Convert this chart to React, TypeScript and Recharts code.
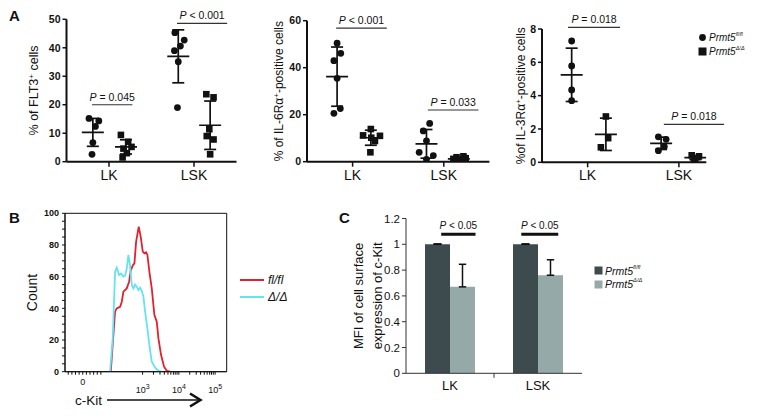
import React from "react";
import {
  ScatterChart,
  Scatter,
  LineChart,
  Line,
  BarChart,
  Bar,
  XAxis,
  YAxis,
  ErrorBar,
  ReferenceLine,
  ReferenceArea,
  Legend,
} from "recharts";

const FONT = '"Liberation Sans", Arial, Helvetica, sans-serif';
const INK = "#111";

// ---------- A: dot plots (mean ± SD) ----------
const groups = ["LK", "LSK"];
const groupTicks = [1, 3];
const genotypes = ["fl/fl", "Δ/Δ"];

// each point: [x position incl. jitter, value]
const flt3LkFl = [[0.53, 15.2], [0.76, 14.3], [0.68, 12.4], [0.62, 6.7], [0.6, 2.6]];
const flt3LkKo = [[1.28, 9.4], [1.45, 7.0], [1.53, 5.2], [1.34, 4.6], [1.42, 3.0], [1.32, 1.5]];
const flt3LskFl = [[2.55, 45.3], [2.77, 42.7], [2.68, 40.6], [2.54, 39.0], [2.63, 35.1], [2.61, 19.0]];
const flt3LskKo = [[3.29, 23.7], [3.46, 22.6], [3.36, 11.4], [3.3, 9.0], [3.46, 7.8], [3.38, 2.6]];
const flt3Centers = [0.62, 1.4, 2.63, 3.38];
const flt3Mean = [10.3, 5.2, 37.0, 12.8];
const flt3Sd = [4.9, 2.5, 9.3, 8.5];

const il6LkFl = [[0.66, 50.4], [0.74, 46.1], [0.59, 43.0], [0.66, 35.5], [0.73, 22.6], [0.59, 20.6]];
const il6LkKo = [[1.4, 13.9], [1.23, 11.2], [1.6, 11.0], [1.41, 10.2], [1.49, 8.8], [1.39, 4.0]];
const il6LskFl = [[2.69, 16.3], [2.55, 13.1], [2.62, 8.9], [2.46, 4.0], [2.77, 2.6], [2.62, 1.0]];
const il6LskKo = [[3.43, 2.3], [3.28, 1.9], [3.48, 1.5], [3.21, 1.2], [3.36, 0.8], [3.31, 0.5]];
const il6Centers = [0.66, 1.4, 2.62, 3.33];
const il6Mean = [36.2, 10.2, 7.6, 1.2];
const il6Sd = [12.6, 3.2, 6.1, 0.7];

const il3LkFl = [[0.65, 7.28], [0.65, 5.78], [0.65, 4.34], [0.65, 3.7]];
const il3LkKo = [[1.4, 2.75], [1.45, 1.45], [1.29, 0.9]];
const il3LskFl = [[2.55, 1.53], [2.72, 1.38], [2.68, 0.94], [2.55, 0.7]];
const il3LskKo = [[3.28, 0.42], [3.44, 0.36], [3.36, 0.22], [3.33, 0.12]];
const il3Centers = [0.65, 1.4, 2.61, 3.36];
const il3Mean = [5.25, 1.68, 1.14, 0.28];
const il3Sd = [1.6, 0.97, 0.37, 0.12];

type Bracket = { x1: number; x2: number; y: number; text: string };
const flt3P: Bracket[] = [
  { x1: 0.6, x2: 1.55, y: 20, text: "= 0.045" },
  { x1: 2.6, x2: 3.78, y: 48.6, text: "< 0.001" },
];
const il6P: Bracket[] = [
  { x1: 0.64, x2: 1.75, y: 56.8, text: "< 0.001" },
  { x1: 2.65, x2: 3.76, y: 22, text: "= 0.033" },
];
const il3P: Bracket[] = [
  { x1: 0.57, x2: 1.71, y: 8.1, text: "= 0.018" },
  { x1: 2.67, x2: 3.99, y: 2.28, text: "= 0.018" },
];

// ---------- B: c-Kit histogram ----------
// x in display units (10^3 -> 3, 10^4 -> 4 ...), y = count
const kitFlX = [2.122, 2.241, 2.287, 2.379, 2.425, 2.471, 2.563, 2.628, 2.674, 2.729, 2.775, 2.821, 2.894, 2.95, 3.005, 3.05, 3.097, 3.133, 3.188, 3.253, 3.326, 3.391, 3.437, 3.51, 3.593, 3.667, 3.759];
const kitFlY = [0, 37.9, 40, 41, 44, 50.5, 52.6, 56.8, 64, 67, 68.4, 82, 91.6, 85, 75.8, 74.7, 75.4, 73.7, 63, 52.6, 35.8, 31.6, 21, 10.5, 3.2, 0.6, 0];
const kitKoX = [2.103, 2.177, 2.241, 2.287, 2.352, 2.407, 2.471, 2.517, 2.563, 2.609, 2.655, 2.701, 2.747, 2.793, 2.839, 2.885, 2.931, 2.977, 3.023, 3.069, 3.133, 3.188, 3.253, 3.345, 3.437, 3.529];
const kitKoY = [0, 21, 63, 65.7, 61, 62, 60, 60.6, 65, 73.7, 67, 54.7, 52.6, 55, 53.7, 51.6, 53, 51, 47.4, 38, 27.4, 16.8, 6.3, 2.5, 0.6, 0];
const kitDomain = [0.86, 5.32];
const kitMajor = [1.35, 3, 4, 5];
const kitBase = ["0", "10", "10", "10"];
const kitExp = ["", "3", "4", "5"];
const kitMinor = [0.95, 1.05, 1.15, 1.25, 1.45, 1.55, 1.65, 1.75, 1.85, 3.3, 3.48, 3.6, 3.7, 3.78, 3.85, 3.9, 3.95, 4.3, 4.48, 4.6, 4.7, 4.78, 4.85, 4.9, 4.95];
const countTicks = [0, 5, 10, 15, 20, 25, 30, 35, 40, 45, 50, 55, 60, 65, 70, 75, 80, 85, 90, 95, 100];
const countLabels = [0, 20, 40, 60, 80, 100];
const curveNames = ["fl/fl", "Δ/Δ"];
const curveColors = ["#e2212f", "#62e4f2"];

// ---------- C: MFI bars ----------
const cGroups = ["LK", "LSK"];
const cPos = [0.5, 1.5];
const cFl = [1, 1];
const cKo = [0.67, 0.76];
const cFlErr = [0.003, 0.003];
const cKoErr = [0.175, 0.12];
const cP: Bracket[] = [
  { x1: 0.4, x2: 0.79, y: 1.078, text: "< 0.05" },
  { x1: 1.31, x2: 1.73, y: 1.078, text: "< 0.05" },
];
const barColors = ["#3e4b4e", "#94a9a8"];

const cData = cGroups.map((g, i) => ({
  group: g,
  pos: cPos[i],
  fl: cFl[i],
  ko: cKo[i],
  flErr: [0, cFlErr[i]],
  koErr: [0, cKoErr[i]],
}));

const toPts = (arr: number[][]) => arr.map(([x, y]) => ({ x, y }));

// ---------- small svg pieces ----------
const DotShape = (p: any) => <circle cx={p.cx} cy={p.cy} r={3.4} fill={INK} />;
const SquareShape = (p: any) => (
  <rect x={p.cx - 3.3} y={p.cy - 3.3} width={6.6} height={6.6} fill={INK} />
);
const MeanShape = (p: any) => (
  <line x1={p.cx - 11} x2={p.cx + 11} y1={p.cy} y2={p.cy} stroke={INK} strokeWidth={1.7} />
);

const PLabel = (props: any) => {
  const { viewBox, text, size = 10.5, gap = 4 } = props;
  if (!viewBox) return null;
  return (
    <text
      x={viewBox.x + viewBox.width / 2}
      y={viewBox.y - gap}
      textAnchor="middle"
      fontSize={size}
      fontFamily={FONT}
      fill={INK}
    >
      <tspan fontStyle="italic">P</tspan>
      <tspan> {text}</tspan>
    </text>
  );
};

const RotLabel = (props: any) => {
  const { x, y, size, body } = props;
  return (
    <text
      transform={`translate(${x},${y}) rotate(-90)`}
      textAnchor="middle"
      dy="0.35em"
      fontSize={size}
      fontFamily={FONT}
      fill={INK}
    >
      {body}
    </text>
  );
};

const GenoLegend = ({ dotFirst, colors, size, row }: any) => (
  <div style={{ fontFamily: FONT, fontSize: size, fontStyle: "italic", color: INK, whiteSpace: "nowrap" }}>
    {genotypes.map((g, i) => (
      <div key={g} style={{ display: "flex", alignItems: "center", height: row }}>
        <svg width={9} height={9} style={{ marginRight: 2 }}>
          {dotFirst && i === 0 ? (
            <circle cx={4.5} cy={4.5} r={3.4} fill={colors[i]} />
          ) : (
            <rect x={0.5} y={0.5} width={8} height={8} fill={colors[i]} />
          )}
        </svg>
        <span>
          Prmt5
          <sup style={{ fontSize: size * 0.55, verticalAlign: "top", lineHeight: 1 }}>{g}</sup>
        </span>
      </div>
    ))}
  </div>
);

const CurveLegend = () => (
  <div style={{ fontFamily: FONT, fontSize: 12, fontStyle: "italic", color: INK, whiteSpace: "nowrap" }}>
    {curveNames.map((n, i) => (
      <div key={n} style={{ display: "flex", alignItems: "center", height: 16.5 }}>
        <svg width={24} height={4} style={{ marginRight: 4 }}>
          <line x1={0} x2={24} y1={2} y2={2} stroke={curveColors[i]} strokeWidth={2} />
        </svg>
        {n}
      </div>
    ))}
  </div>
);

const KitTick = (props: any) => {
  const { x, y, payload } = props;
  const i = kitMajor.indexOf(payload.value);
  if (i < 0) return null;
  const exp = kitExp[i];
  return (
    <text x={x} y={exp ? y + 17 : y + 9} textAnchor="middle" fontSize={9} fontFamily={FONT} fill={INK}>
      {kitBase[i]}
      {exp && (
        <tspan dy={-4} fontSize={7}>
          {exp}
        </tspan>
      )}
    </text>
  );
};

const KitAxisLabel = () => (
  <g>
    <text x={75} y={205} fontSize={13.5} fontFamily={FONT} fill={INK}>
      c-Kit
    </text>
    <line x1={107} x2={200} y1={200} y2={200} stroke={INK} strokeWidth={1.5} />
    <polyline points="190,193.5 200.5,200 190,206.5" fill="none" stroke={INK} strokeWidth={2.5} />
  </g>
);

// ---------- panel A component ----------
interface DotPanelProps {
  left: number;
  width: number;
  margin: { top: number; right: number; left: number; bottom: number };
  yWidth: number;
  xMax: number;
  yMax: number;
  yTicks: number[];
  fl: number[][];
  ko: number[][];
  centers: number[];
  means: number[];
  sds: number[];
  brackets: Bracket[];
  label: React.ReactNode;
  labelX: number;
  labelY: number;
  labelSize: number;
  legend?: boolean;
}

const DotPanel: React.FC<DotPanelProps> = (p) => {
  const summary = p.centers.map((c, i) => ({ x: c, y: p.means[i], sd: p.sds[i] }));
  return (
    <div style={{ position: "absolute", left: p.left, top: 0 }}>
      <ScatterChart width={p.width} height={190} margin={p.margin}>
        <XAxis
          type="number"
          dataKey="x"
          domain={[0, p.xMax]}
          allowDataOverflow
          ticks={groupTicks}
          interval={0}
          tickFormatter={(v) => groups[groupTicks.indexOf(v)]}
          axisLine={{ stroke: INK, strokeWidth: 2 }}
          tickLine={{ stroke: INK, strokeWidth: 1.5 }}
          tickSize={5}
          tickMargin={3}
          height={25}
          tick={{ fontSize: 14, fill: INK, fontFamily: FONT }}
        />
        <YAxis
          type="number"
          dataKey="y"
          domain={[0, p.yMax]}
          allowDataOverflow
          ticks={p.yTicks}
          interval={0}
          width={p.yWidth}
          axisLine={{ stroke: INK, strokeWidth: 2 }}
          tickLine={{ stroke: INK, strokeWidth: 1.5 }}
          tickSize={4}
          tickMargin={2}
          tick={{ fontSize: 10.5, fontWeight: 700, fill: INK, fontFamily: FONT }}
          label={<RotLabel x={p.labelX} y={p.labelY} size={p.labelSize} body={p.label} />}
        />
        {p.brackets.map((b, i) => (
          <ReferenceLine
            key={i}
            segment={[
              { x: b.x1, y: b.y },
              { x: b.x2, y: b.y },
            ]}
            stroke="#333"
            strokeWidth={1.2}
            ifOverflow="visible"
            label={<PLabel text={b.text} />}
          />
        ))}
        <Scatter data={toPts(p.fl)} shape={DotShape} isAnimationActive={false} />
        <Scatter data={toPts(p.ko)} shape={SquareShape} isAnimationActive={false} />
        <Scatter data={summary} shape={MeanShape} isAnimationActive={false}>
          <ErrorBar dataKey="sd" direction="y" width={6} stroke={INK} strokeWidth={1.7} />
        </Scatter>
        {p.legend && (
          <Legend
            layout="vertical"
            align="center"
            verticalAlign="middle"
            wrapperStyle={{ left: 198, top: 30 }}
            content={() => <GenoLegend dotFirst colors={[INK, INK]} size={10} row={14.4} />}
          />
        )}
      </ScatterChart>
    </div>
  );
};

const sup = (base: string, rest: string) => (
  <>
    {base}
    <tspan dy={-4} fontSize={8}>
      +
    </tspan>
    <tspan dy={4}>{rest}</tspan>
  </>
);

const letterStyle: React.CSSProperties = {
  position: "absolute",
  fontFamily: FONT,
  fontWeight: 700,
  fontSize: 15,
  color: INK,
  lineHeight: "15px",
};

export default function App() {
  return (
    <div style={{ position: "absolute", left: 0, top: 0, width: 757, height: 416, background: "#fff", overflow: "hidden" }}>
      <div style={{ ...letterStyle, left: 9, top: 8 }}>A</div>
      <div style={{ ...letterStyle, left: 9, top: 210 }}>B</div>
      <div style={{ ...letterStyle, left: 339, top: 210 }}>C</div>

      <DotPanel
        left={0}
        width={250}
        margin={{ top: 19.3, right: 13.5, left: 0, bottom: 3.3 }}
        yWidth={66.5}
        xMax={4}
        yMax={50}
        yTicks={[0, 10, 20, 30, 40, 50]}
        fl={[...flt3LkFl, ...flt3LskFl]}
        ko={[...flt3LkKo, ...flt3LskKo]}
        centers={flt3Centers}
        means={flt3Mean}
        sds={flt3Sd}
        brackets={flt3P}
        label={sup("% of FLT3", " cells")}
        labelX={38}
        labelY={95}
        labelSize={12.5}
      />
      <DotPanel
        left={250}
        width={245}
        margin={{ top: 20.7, right: 5.6, left: 0, bottom: 3.3 }}
        yWidth={57}
        xMax={4}
        yMax={60}
        yTicks={[0, 20, 40, 60]}
        fl={[...il6LkFl, ...il6LskFl]}
        ko={[...il6LkKo, ...il6LskKo]}
        centers={il6Centers}
        means={il6Mean}
        sds={il6Sd}
        brackets={il6P}
        label={sup("% of IL-6Rα", "-positive cells")}
        labelX={33}
        labelY={76}
        labelSize={12}
      />
      <DotPanel
        left={500}
        width={257}
        margin={{ top: 29, right: 50.7, left: 0, bottom: 2.7 }}
        yWidth={42}
        xMax={3.6}
        yMax={8}
        yTicks={[0, 2, 4, 6, 8]}
        fl={[...il3LkFl, ...il3LskFl]}
        ko={[...il3LkKo, ...il3LskKo]}
        centers={il3Centers}
        means={il3Mean}
        sds={il3Sd}
        brackets={il3P}
        label={sup("%of IL-3Rα", "-positive cells")}
        labelX={21.7}
        labelY={90}
        labelSize={12}
        legend
      />

      {/* B: histogram */}
      <div style={{ position: "absolute", left: 0, top: 200 }}>
        <LineChart width={330} height={216} margin={{ top: 13.3, right: 103.3, left: 0, bottom: 14.3 }}>
          <XAxis
            type="number"
            dataKey="x"
            domain={kitDomain}
            allowDataOverflow
            ticks={[...kitMajor, ...kitMinor]}
            interval={0}
            axisLine={{ stroke: INK }}
            tickLine={{ stroke: INK }}
            tickSize={3}
            tickMargin={1}
            height={30}
            tick={<KitTick />}
            label={<KitAxisLabel />}
          />
          <YAxis
            type="number"
            domain={[0, 100]}
            allowDataOverflow
            ticks={countTicks}
            interval={0}
            width={65}
            axisLine={{ stroke: INK }}
            tickLine={{ stroke: INK }}
            tickSize={3}
            tickMargin={3}
            tickFormatter={(v) => (countLabels.includes(v) ? String(v) : "")}
            tick={{ fontSize: 9, fontWeight: 700, fill: INK, fontFamily: FONT }}
            label={<RotLabel x={37} y={93} size={14} body="Count" />}
          />
          <ReferenceArea
            x1={kitDomain[0]}
            x2={kitDomain[1]}
            y1={0}
            y2={100}
            fill="none"
            stroke={INK}
            strokeWidth={1}
            ifOverflow="visible"
          />
          <Line
            data={kitFlX.map((x, i) => ({ x, y: kitFlY[i] }))}
            dataKey="y"
            type="linear"
            stroke={curveColors[0]}
            strokeWidth={1.8}
            dot={false}
            isAnimationActive={false}
          />
          <Line
            data={kitKoX.map((x, i) => ({ x, y: kitKoY[i] }))}
            dataKey="y"
            type="linear"
            stroke={curveColors[1]}
            strokeWidth={1.8}
            dot={false}
            isAnimationActive={false}
          />
          <Legend
            layout="vertical"
            align="center"
            verticalAlign="middle"
            wrapperStyle={{ left: 240, top: 72 }}
            content={() => <CurveLegend />}
          />
        </LineChart>
      </div>

      {/* C: MFI bars */}
      <div style={{ position: "absolute", left: 330, top: 200 }}>
        <BarChart
          width={427}
          height={216}
          data={cData}
          margin={{ top: 18.5, right: 175, left: 0, bottom: 17.7 }}
          barCategoryGap={19}
          barGap={0}
        >
          <XAxis
            dataKey="group"
            axisLine={{ stroke: "#333" }}
            tickLine={false}
            tickSize={4}
            tickMargin={3}
            height={25}
            tick={{ fontSize: 13, fill: INK, fontFamily: FONT }}
          />
          <XAxis xAxisId="pos" dataKey="pos" type="number" domain={[0, 2]} allowDataOverflow hide />
          <YAxis
            domain={[0, 1.2]}
            ticks={[0, 0.2, 0.4, 0.6, 0.8, 1, 1.2]}
            interval={0}
            width={76}
            axisLine={{ stroke: "#333" }}
            tickLine={{ stroke: "#333" }}
            tickSize={4}
            tickMargin={2}
            tick={{ fontSize: 11.5, fill: INK, fontFamily: FONT }}
            label={
              <RotLabel
                x={37}
                y={97}
                size={13}
                body={
                  <>
                    <tspan x={0} dy="-0.35em">MFI of cell surface</tspan>
                    <tspan x={0} dy="1.45em">expression of c-Kit</tspan>
                  </>
                }
              />
            }
          />
          <ReferenceLine
            xAxisId="pos"
            segment={[
              { x: 1, y: 0 },
              { x: 1, y: -0.035 },
            ]}
            stroke="#333"
            ifOverflow="visible"
          />
          {cP.map((b, i) => (
            <ReferenceLine
              key={i}
              xAxisId="pos"
              segment={[
                { x: b.x1, y: b.y },
                { x: b.x2, y: b.y },
              ]}
              stroke={INK}
              strokeWidth={3}
              ifOverflow="visible"
              label={<PLabel text={b.text} size={10} gap={5} />}
            />
          ))}
          <Bar dataKey="fl" fill={barColors[0]} isAnimationActive={false}>
            <ErrorBar dataKey="flErr" direction="y" width={4} stroke={INK} strokeWidth={1.5} />
          </Bar>
          <Bar dataKey="ko" fill={barColors[1]} isAnimationActive={false}>
            <ErrorBar dataKey="koErr" direction="y" width={3.7} stroke={INK} strokeWidth={1.5} />
          </Bar>
          <Legend
            layout="vertical"
            align="center"
            verticalAlign="middle"
            wrapperStyle={{ left: 264, top: 64 }}
            content={() => <GenoLegend colors={barColors} size={10.5} row={13.5} />}
          />
        </BarChart>
      </div>
    </div>
  );
}
